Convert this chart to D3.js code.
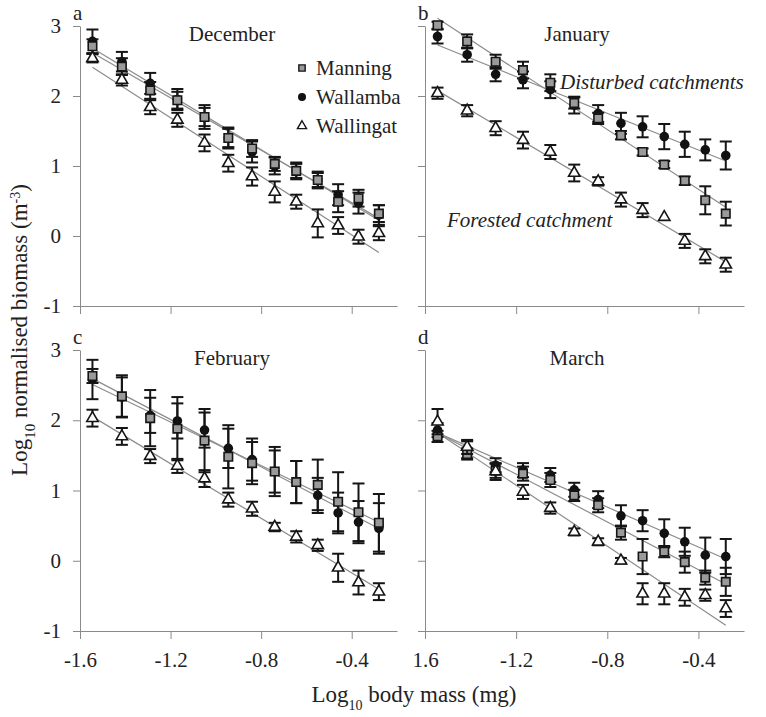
<!DOCTYPE html>
<html>
<head>
<meta charset="utf-8">
<script src="https://cdn.jsdelivr.net/npm/d3@7"></script>
<style>
  body { margin: 0; background: #fff; }
  svg text { font-family: "Liberation Serif", "DejaVu Serif", serif; fill: #222; }
</style>
</head>
<body>
<div id="chart"></div>
<script>
// log10 body mass of each size class (same in every panel)
const bodyMass = [-1.545, -1.415, -1.29, -1.17, -1.05, -0.945, -0.84, -0.74, -0.645, -0.55, -0.46, -0.37, -0.28];

const seriesNames = ["Manning", "Wallamba", "Wallingat"];
const months = ["December", "January", "February", "March"];
const panelLetters = ["a", "b", "c", "d"];
const yTicks = [-1, 0, 1, 2, 3];
const xTicks = [-1.6, -1.2, -0.8, -0.4];
const xTickLabelsLeft = ["-1.6", "-1.2", "-0.8", "-0.4"];
const xTickLabelsRight = ["1.6", "-1.2", "-0.8", "-0.4"];

// December
const decManning     = [2.71, 2.42, 2.08, 1.94, 1.70, 1.40, 1.25, 1.03, 0.93, 0.80, 0.49, 0.54, 0.32];
const decManningSE   = [0.10, 0.12, 0.12, 0.12, 0.13, 0.13, 0.12, 0.10, 0.10, 0.10, 0.15, 0.12, 0.12];
const decWallamba    = [2.78, 2.49, 2.18, 1.95, 1.70, 1.40, 1.20, 1.00, 0.93, 0.80, 0.59, 0.47, 0.30];
const decWallambaSE  = [0.17, 0.14, 0.15, 0.15, 0.17, 0.15, 0.15, 0.12, 0.12, 0.12, 0.15, 0.15, 0.14];
const decWallingat   = [2.54, 2.23, 1.84, 1.66, 1.33, 1.04, 0.85, 0.63, 0.49, 0.18, 0.15, -0.01, 0.04];
const decWallingatSE = [0.06, 0.08, 0.10, 0.10, 0.12, 0.12, 0.13, 0.15, 0.10, 0.20, 0.12, 0.10, 0.10];

// January
const janManning     = [3.01, 2.78, 2.49, 2.37, 2.19, 1.90, 1.68, 1.44, 1.20, 1.02, 0.79, 0.51, 0.32];
const janManningSE   = [0.05, 0.10, 0.10, 0.12, 0.12, 0.08, 0.08, 0.06, 0.05, 0.05, 0.06, 0.20, 0.17];
const janWallamba    = [2.85, 2.59, 2.31, 2.23, 2.09, 1.87, 1.75, 1.61, 1.56, 1.42, 1.31, 1.23, 1.15];
const janWallambaSE  = [0.10, 0.10, 0.10, 0.12, 0.12, 0.12, 0.12, 0.15, 0.15, 0.18, 0.18, 0.15, 0.20];
const janWallingat   = [2.04, 1.79, 1.54, 1.37, 1.20, 0.90, 0.78, 0.52, 0.37, 0.27, -0.07, -0.29, -0.41];
const janWallingatSE = [0.08, 0.08, 0.10, 0.12, 0.10, 0.12, 0.06, 0.10, 0.10, 0.00, 0.10, 0.10, 0.10];

// February
const febManning     = [2.63, 2.34, 2.03, 1.88, 1.71, 1.48, 1.39, 1.27, 1.12, 1.08, 0.84, 0.69, 0.54];
const febManningSE   = [0.10, 0.30, 0.40, 0.45, 0.45, 0.45, 0.30, 0.35, 0.30, 0.36, 0.42, 0.41, 0.41];
const febWallamba    = [2.58, 2.33, 2.07, 1.99, 1.86, 1.60, 1.44, 1.27, 1.12, 0.93, 0.68, 0.55, 0.46];
const febWallambaSE  = [0.28, 0.28, 0.25, 0.25, 0.25, 0.28, 0.30, 0.30, 0.30, 0.25, 0.29, 0.30, 0.36];
const febWallingat   = [2.03, 1.77, 1.49, 1.35, 1.17, 0.87, 0.74, 0.48, 0.34, 0.22, -0.10, -0.31, -0.44];
const febWallingatSE = [0.12, 0.12, 0.10, 0.10, 0.12, 0.10, 0.10, 0.06, 0.08, 0.08, 0.20, 0.17, 0.12];

// March
const marManning     = [1.77, 1.52, 1.28, 1.24, 1.15, 0.93, 0.79, 0.40, 0.06, 0.13, -0.02, -0.24, -0.30];
const marManningSE   = [0.08, 0.08, 0.10, 0.10, 0.10, 0.08, 0.10, 0.10, 0.25, 0.08, 0.15, 0.10, 0.20];
const marWallamba    = [1.86, 1.58, 1.36, 1.29, 1.22, 1.01, 0.87, 0.64, 0.57, 0.39, 0.27, 0.08, 0.06];
const marWallambaSE  = [0.10, 0.12, 0.10, 0.10, 0.10, 0.10, 0.12, 0.15, 0.15, 0.20, 0.20, 0.25, 0.25];
const marWallingat   = [1.98, 1.62, 1.27, 0.98, 0.75, 0.41, 0.27, 0.00, -0.47, -0.47, -0.52, -0.49, -0.68];
const marWallingatSE = [0.18, 0.10, 0.12, 0.10, 0.08, 0.05, 0.05, 0.04, 0.15, 0.15, 0.12, 0.08, 0.12];

const panelValues = [
  [[decManning, decManningSE], [decWallamba, decWallambaSE], [decWallingat, decWallingatSE]],
  [[janManning, janManningSE], [janWallamba, janWallambaSE], [janWallingat, janWallingatSE]],
  [[febManning, febManningSE], [febWallamba, febWallambaSE], [febWallingat, febWallingatSE]],
  [[marManning, marManningSE], [marWallamba, marWallambaSE], [marWallingat, marWallingatSE]]
];

const W = 766, H = 717;
const colX = [80, 425], colW = [317, 319];
const rowY = [26, 350], rowH = [280, 281];
const FS = 21;
const SERIF = "'Liberation Serif', 'DejaVu Serif', serif";

const svg = d3.select("#chart").append("svg")
  .attr("width", W)
  .attr("height", H)
  .attr("font-family", SERIF);

function fit(xs, ys) {
  const mx = d3.mean(xs), my = d3.mean(ys);
  let sxy = 0, sxx = 0;
  xs.forEach((x, i) => { sxy += (x - mx) * (ys[i] - my); sxx += (x - mx) ** 2; });
  const slope = sxy / sxx;
  return { slope, intercept: my - slope * mx };
}

const symSquare = d3.symbol().type(d3.symbolSquare).size(72);
const symTriangle = d3.symbol().type(d3.symbolTriangle).size(56);

months.forEach((month, p) => {
  const col = p % 2, row = Math.floor(p / 2);
  const x = d3.scaleLinear().domain([-1.6, -0.2]).range([colX[col], colX[col] + colW[col]]);
  const y = d3.scaleLinear().domain([-1, 3]).range([rowY[row] + rowH[row], rowY[row]]);
  const g = svg.append("g");

  // Axes
  const yAxis = g.append("g")
    .attr("transform", `translate(${colX[col]},0)`)
    .attr("color", "#8a8a8a")
    .call(d3.axisLeft(y).tickValues(yTicks).tickSize(7).tickSizeOuter(0).tickPadding(12)
      .tickFormat(d => col === 0 ? String(d) : ""))
    .attr("font-family", SERIF);
  yAxis.selectAll("text").style("font-size", FS + "px").attr("fill", "#222");

  const xLabels = col === 0 ? xTickLabelsLeft : xTickLabelsRight;
  const xAxis = g.append("g")
    .attr("transform", `translate(0,${y(-1)})`)
    .attr("color", "#8a8a8a")
    .call(d3.axisBottom(x).tickValues(xTicks).tickSize(8).tickSizeOuter(0).tickPadding(13)
      .tickFormat((d, i) => row === 1 ? xLabels[i] : ""))
    .attr("font-family", SERIF);
  xAxis.selectAll("text").style("font-size", FS + "px").attr("fill", "#222");

  // Panel letter and month
  g.append("text")
    .attr("x", colX[col] - 7)
    .attr("y", rowY[row] - 6)
    .style("font-size", FS + "px")
    .text(panelLetters[p]);

  g.append("text")
    .attr("x", colX[col] + 152)
    .attr("y", rowY[row] + 15)
    .attr("text-anchor", "middle")
    .style("font-size", FS + "px")
    .text(month);

  // Regression lines
  panelValues[p].forEach(([vals]) => {
    const f = fit(bodyMass, vals);
    const x0 = bodyMass[0], x1 = bodyMass[bodyMass.length - 1];
    g.append("line")
      .attr("x1", x(x0)).attr("y1", y(f.intercept + f.slope * x0))
      .attr("x2", x(x1)).attr("y2", y(f.intercept + f.slope * x1))
      .attr("stroke", "#8c8c8c")
      .attr("stroke-width", 1.2);
  });

  // Points with error bars, drawn Wallamba, Manning, Wallingat
  [1, 0, 2].forEach(s => {
    const [vals, se] = panelValues[p][s];
    const pts = bodyMass.map((m, i) => ({ m, v: vals[i], e: se[i] }));
    const bars = g.append("g").attr("stroke", "#151515").attr("stroke-width", 2);
    bars.selectAll(".stem").data(pts).join("line")
      .attr("x1", d => x(d.m)).attr("x2", d => x(d.m))
      .attr("y1", d => y(d.v - d.e)).attr("y2", d => y(d.v + d.e));
    bars.selectAll(".capTop").data(pts.filter(d => d.e > 0)).join("line")
      .attr("x1", d => x(d.m) - 6).attr("x2", d => x(d.m) + 6)
      .attr("y1", d => y(d.v + d.e)).attr("y2", d => y(d.v + d.e));
    bars.selectAll(".capBot").data(pts.filter(d => d.e > 0)).join("line")
      .attr("x1", d => x(d.m) - 6).attr("x2", d => x(d.m) + 6)
      .attr("y1", d => y(d.v - d.e)).attr("y2", d => y(d.v - d.e));

    const marks = g.append("g");
    if (s === 0) {
      marks.selectAll("path").data(pts).join("path")
        .attr("d", symSquare)
        .attr("transform", d => `translate(${x(d.m)},${y(d.v)})`)
        .attr("fill", "#9a9a9a").attr("stroke", "#151515").attr("stroke-width", 1.6);
    } else if (s === 1) {
      marks.selectAll("circle").data(pts).join("circle")
        .attr("cx", d => x(d.m)).attr("cy", d => y(d.v)).attr("r", 4.8)
        .attr("fill", "#111");
    } else {
      marks.selectAll("path").data(pts).join("path")
        .attr("d", symTriangle)
        .attr("transform", d => `translate(${x(d.m)},${y(d.v)})`)
        .attr("fill", "#fff").attr("stroke", "#151515").attr("stroke-width", 1.6);
    }
  });
});

// Legend (panel a)
const legend = svg.append("g").attr("transform", "translate(302,68)");
seriesNames.forEach((name, i) => {
  const item = legend.append("g").attr("transform", `translate(0,${i * 29})`);
  if (i === 0) {
    item.append("path").attr("d", d3.symbol().type(d3.symbolSquare).size(40))
      .attr("fill", "#9a9a9a").attr("stroke", "#151515").attr("stroke-width", 1.4);
  } else if (i === 1) {
    item.append("circle").attr("r", 4).attr("fill", "#111");
  } else {
    item.append("path").attr("d", d3.symbol().type(d3.symbolTriangle).size(36))
      .attr("fill", "#fff").attr("stroke", "#151515").attr("stroke-width", 1.4);
  }
  item.append("text")
    .attr("x", 14)
    .attr("dy", "0.35em")
    .style("font-size", FS + "px")
    .text(name);
});

// Annotations (panel b)
svg.append("text")
  .attr("x", 560).attr("y", 89)
  .style("font-size", FS + "px").style("font-style", "italic")
  .text("Disturbed catchments");
svg.append("text")
  .attr("x", 447).attr("y", 227)
  .style("font-size", FS + "px").style("font-style", "italic")
  .text("Forested catchment");

// Axis titles
const yTitle = svg.append("text")
  .attr("transform", "translate(27,330) rotate(-90)")
  .attr("text-anchor", "middle")
  .style("font-size", "23px");
yTitle.append("tspan").text("Log");
yTitle.append("tspan").attr("baseline-shift", "sub").style("font-size", "15px").text("10");
yTitle.append("tspan").text(" normalised biomass (m");
yTitle.append("tspan").attr("baseline-shift", "super").style("font-size", "14px").text("-3");
yTitle.append("tspan").text(")");

const xTitle = svg.append("text")
  .attr("x", 414).attr("y", 702)
  .attr("text-anchor", "middle")
  .style("font-size", "23px");
xTitle.append("tspan").text("Log");
xTitle.append("tspan").attr("baseline-shift", "sub").style("font-size", "14px").text("10");
xTitle.append("tspan").text(" body mass (mg)");
</script>
</body>
</html>
